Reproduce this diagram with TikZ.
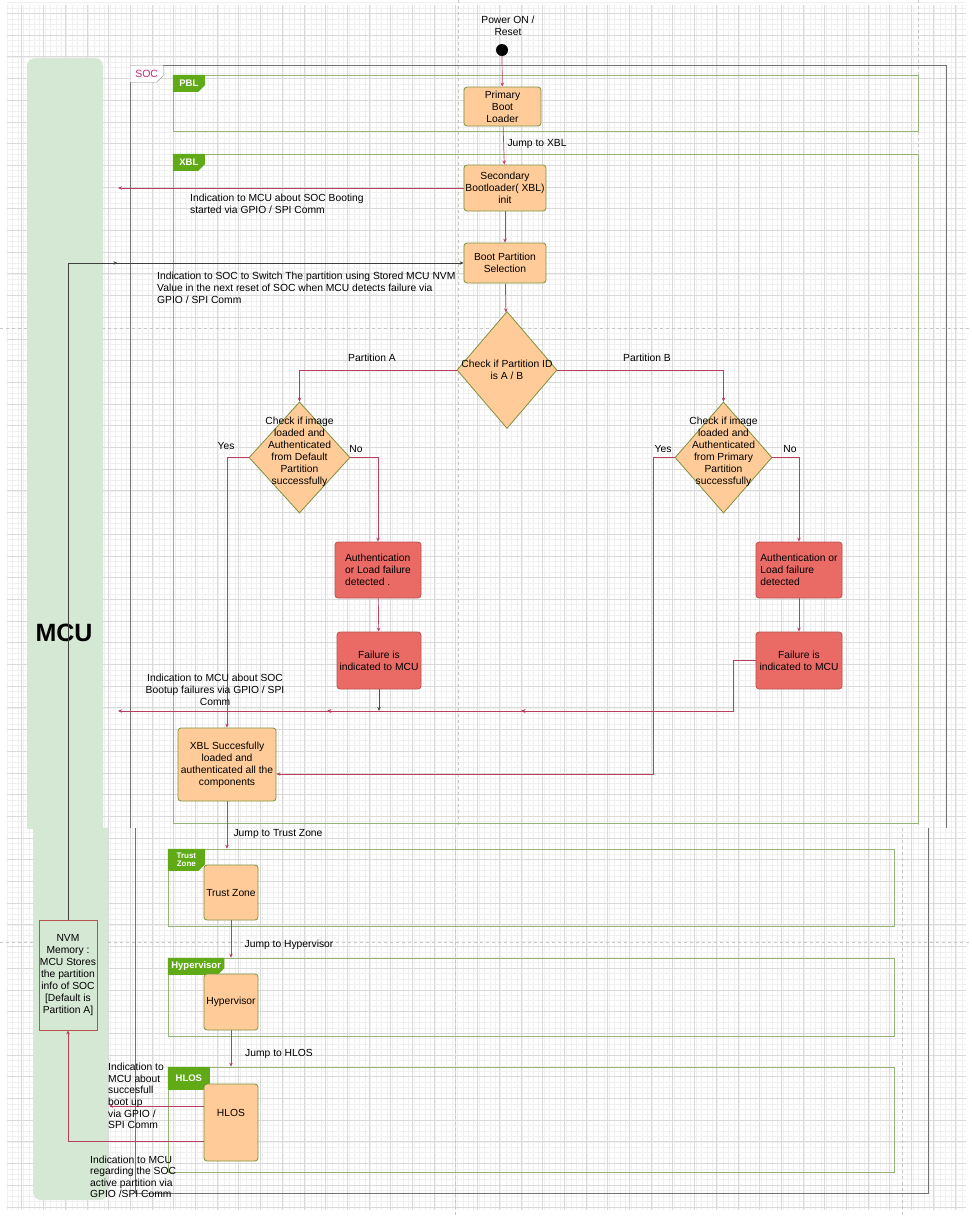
\documentclass[tikz,border=0pt]{standalone}
\usepackage{fontspec}
\setmainfont{Liberation Sans}
\usetikzlibrary{arrows.meta,shapes.geometric,shapes.misc,decorations.markings,calc}

\definecolor{gridmaj}{RGB}{218,218,218}
\definecolor{gridmin}{RGB}{240,240,240}
\definecolor{boxfill}{RGB}{255,204,153}
\definecolor{boxline}{RGB}{125,145,60}
\definecolor{failfill}{RGB}{234,107,102}
\definecolor{failline}{RGB}{184,84,80}
\definecolor{edgec}{RGB}{186,62,96}
\definecolor{lanefill}{RGB}{213,232,212}
\definecolor{tabfill}{RGB}{96,169,23}
\definecolor{framec}{RGB}{150,180,120}
\definecolor{socpink}{RGB}{200,40,120}

\tikzset{
  txt/.style={font=\fontsize{10.3}{12}\selectfont, inner sep=0pt, align=center},
  proc/.style={txt, draw=boxline, fill=boxfill, line width=0.8pt, rounded corners=3pt},
  fail/.style={txt, draw=failline, fill=failfill, line width=0.8pt, rounded corners=3pt},
  dec/.style={draw=boxline, fill=boxfill, line width=0.8pt, shape=diamond, inner sep=0pt},
  frame/.style={draw=framec, line width=0.7pt, inner sep=0pt},
  tab/.style={chamfered rectangle, chamfered rectangle corners=south east,
    chamfered rectangle xsep=3pt, fill=tabfill, text=white, inner sep=0.5pt,
    font=\bfseries\fontsize{9.5}{9.5}\selectfont, align=center, anchor=north west},
  flow/.style={draw=edgec, line width=0.7pt, -{Stealth[length=4pt,width=3.5pt]}},
  midarr/.style={postaction={decorate}, decoration={markings,
    mark=at position #1 with {\arrow{Stealth[length=4pt,width=3.5pt]}}}},
  pagebreak/.style={draw=gray!45, line width=0.6pt, dash pattern=on 3pt off 3pt}
}

\begin{document}
\begin{tikzpicture}[x=1pt, y=-1pt]
            \fill[white] (0,0) rectangle (972,1216);
            \useasboundingbox (0,0) rectangle (972,1216);

            \foreach \i in {0,...,176} \draw[gridmin, line width=0.4pt] (7+\i*5.425,5) -- (7+\i*5.425,1210);
            \foreach \i in {0,...,222} \draw[gridmin, line width=0.4pt] (7,2.45+\i*5.425) -- (966,2.45+\i*5.425);
            \foreach \i in {1,...,44} \draw[gridmaj, line width=0.5pt] (\i*21.7,5) -- (\i*21.7,1210);
            \foreach \i in {0,...,55} \draw[gridmaj, line width=0.5pt] (7,13.3+\i*21.7) -- (966,13.3+\i*21.7);

            \draw[pagebreak] (458,0) -- (458,828);
            \draw[pagebreak] (455,828) -- (455,1216);
            \draw[pagebreak] (918,0) -- (918,828);
            \draw[pagebreak] (902,828) -- (902,1216);
            \draw[pagebreak] (0,328) -- (972,328);
            \draw[pagebreak] (0,942) -- (972,942);

            \begin{scope}
              \clip (0,0) rectangle (972,828);
              \fill[lanefill, rounded corners=8pt] (27,58) rectangle (103,900);
            \end{scope}
            \begin{scope}
              \clip (0,828) rectangle (972,1216);
              \fill[lanefill, rounded corners=8pt] (33,760) rectangle (108,1200);
            \end{scope}
            \node[font=\bfseries\fontsize{25}{25}\selectfont, inner sep=0pt] (mcu) at (64,633) {MCU};

            \draw[black!55, line width=0.9pt] (130,828) -- (130,65) -- (946,65) -- (946,828);
            \draw[black!55, line width=0.9pt] (135,828) -- (135,1193) -- (928,1193) -- (928,828);
            \node[chamfered rectangle, chamfered rectangle corners=south east, chamfered rectangle xsep=3pt,
              draw=black!45, fill=white, text=socpink, inner sep=1pt, minimum width=33pt, minimum height=17pt,
              font=\fontsize{10.5}{10.5}\selectfont, anchor=north west] (soctab) at (130,65) {SOC};

            \node[frame, minimum width=745pt, minimum height=56pt] (pblfr) at (545.5,103) {};
            \node[frame, minimum width=745pt, minimum height=669pt] (xblfr) at (545.5,488.5) {};
            \node[frame, minimum width=726pt, minimum height=77pt] (tzfr) at (531,887.5) {};
            \node[frame, minimum width=726pt, minimum height=78pt] (hypfr) at (531,997) {};
            \node[frame, minimum width=726pt, minimum height=105pt] (hlosfr) at (531,1119.5) {};
            \node[tab, minimum width=32pt, minimum height=17pt] (pbltab) at (pblfr.north west) {PBL};
            \node[tab, minimum width=32pt, minimum height=17pt] (xbltab) at (xblfr.north west) {XBL};
            \node[tab, minimum width=37pt, minimum height=21pt, font=\bfseries\fontsize{8}{8.5}\selectfont] (tztab) at (tzfr.north west) {Trust\\Zone};
            \node[tab, minimum width=52pt, minimum height=16pt] (hyptab) at (hypfr.north west) {Hypervisor};
            \node[tab, minimum width=42pt, minimum height=23pt] (hlostab) at (hlosfr.north west) {HLOS};

            \node[txt] (pwrtxt) at (508,26) {Power ON /\\Reset};
            \fill[black] (502,50) circle (6);
            \coordinate (pwr) at (502,56);

            \node[proc, minimum width=77pt, minimum height=39pt] (pbl) at (502.5,106.5) {Primary\\Boot\\Loader};
            \node[proc, minimum width=82pt, minimum height=46pt] (xblinit) at (505,188) {Secondary\\Bootloader( XBL)\\init};
            \node[proc, minimum width=82pt, minimum height=40pt] (bootsel) at (505,263) {Boot Partition\\Selection};
            \node[dec, minimum width=100pt, minimum height=117pt] (chk) at (507,370) {};
            \node[txt] (chktxt) at (507,370) {Check if Partition ID\\is A / B};
            \node[dec, minimum width=101pt, minimum height=111pt] (chka) at (299.5,457.5) {};
            \node[txt] (chkatxt) at (299.5,452) {Check if image\\loaded and\\Authenticated\\from Default\\Partition\\successfully};
            \node[dec, minimum width=97pt, minimum height=111pt] (chkb) at (723.5,457.5) {};
            \node[txt] (chkbtxt) at (723.5,452) {Check if image\\loaded and\\Authenticated\\from Primary\\Partition\\successfully};
            \node[fail, minimum width=86pt, minimum height=56pt, align=left] (faila1) at (378,570) {Authentication\\or Load failure\\detected .};
            \node[fail, minimum width=84pt, minimum height=57pt] (faila2) at (379,660.5) {Failure is\\indicated to MCU};
            \node[fail, minimum width=86pt, minimum height=56pt, align=left] (failb1) at (799,570) {Authentication or\\Load failure\\detected};
            \node[fail, minimum width=86pt, minimum height=57pt] (failb2) at (799,660.5) {Failure is\\indicated to MCU};
            \node[proc, minimum width=98pt, minimum height=73pt] (xblok) at (227,764.5) {XBL Succesfully\\loaded and\\authenticated all the\\components};
            \node[proc, minimum width=54pt, minimum height=55pt] (tz) at (231,892.5) {Trust Zone};
            \node[proc, minimum width=54pt, minimum height=56pt] (hyp) at (231,1002) {Hypervisor};
            \node[proc, minimum width=54pt, minimum height=77pt, text depth=20pt] (hlos) at (231,1122.5) {HLOS};
            \node[txt, draw=failline, line width=0.8pt, minimum width=58pt, minimum height=110pt] (nvm) at (68,975) {NVM\\Memory :\\MCU Stores\\the partition\\info of SOC\\{[}Default is\\Partition A{]}};

            \coordinate (mcua) at (118,188);
            \coordinate (mcub) at (118,711);
            \coordinate (mcuc) at (109,1106);

            \draw[flow] (pwr) -- (pbl);
            \draw[flow] (pbl) -- (xblinit);
            \draw[flow] (xblinit.west) -- (mcua);
            \draw[flow] (xblinit) -- (bootsel);
            \draw[black!75, line width=0.7pt, -{Stealth[length=4pt,width=3.5pt]}, midarr=0.671] (nvm.north) |- (bootsel.west);
            \draw[flow] (bootsel) -- (chk);
            \draw[flow] (chk.west) -| (chka.north);
            \draw[flow] (chk.east) -| (chkb.north);
            \draw[flow] (chka.west) -| (xblok.north);
            \draw[flow] (chka.east) -| (faila1.north);
            \draw[flow] (faila1) -- (faila2);
            \draw[black!70, line width=0.7pt, -{Stealth[length=4pt,width=3.5pt]}] (faila2.south) -- (faila2.south |- mcub);
            \draw[flow, midarr=0.414, midarr=0.696] (failb2.west) -- ++(-22,0) |- (mcub);
            \draw[flow] (chkb.east) -| (failb1.north);
            \draw[flow] (failb1) -- (failb2);
            \draw[flow] (chkb.west) -- ++(-21,0) |- ($(xblok.east)+(0,9.5)$);
            \draw[flow] (xblok.south) -- (xblok.south |- tzfr.north);
            \draw[flow] (tz.south) -- (tz.south |- hypfr.north);
            \draw[flow] (hyp.south) -- (hyp.south |- hlosfr.north);
            \draw[flow] ($(hlos.west)+(0,-16.5)$) -- (mcuc);
            \draw[flow] ($(hlos.west)+(0,18.5)$) -| (nvm.south);

            \node[txt] (l1) at (537,144) {Jump to XBL};
            \node[txt, anchor=west, align=left] (l2) at (190,203.5) {Indication to MCU about SOC Booting\\started via GPIO / SPI Comm};
            \node[txt, anchor=west, align=left] (l3) at (157,288) {Indication to SOC to Switch The partition using Stored MCU NVM\\Value in the next reset of SOC when MCU detects failure via\\GPIO / SPI Comm};
            \node[txt] (l4) at (372,358) {Partition A};
            \node[txt] (l5) at (647,358) {Partition B};
            \node[txt] (l6) at (226,446) {Yes};
            \node[txt] (l7) at (356,449) {No};
            \node[txt] (l8) at (663,449) {Yes};
            \node[txt] (l9) at (790,449) {No};
            \node[txt] (l10) at (215,690) {Indication to MCU about SOC\\Bootup failures via GPIO / SPI\\Comm};
            \node[txt] (l11) at (278,834) {Jump to Trust Zone};
            \node[txt] (l12) at (289,945) {Jump to Hypervisor};
            \node[txt] (l13) at (279,1054) {Jump to HLOS};
            \node[txt, anchor=west, align=left, font=\fontsize{10.3}{11.6}\selectfont] (l14) at (108,1096) {Indication to\\MCU about\\succesfull\\boot up\\via GPIO /\\SPI Comm};
            \node[txt, anchor=west, align=left, font=\fontsize{10.3}{11.5}\selectfont] (l15) at (90,1177) {Indication to MCU\\regarding the SOC\\active partition via\\GPIO /SPI Comm};
        \end{tikzpicture}
\end{document}
